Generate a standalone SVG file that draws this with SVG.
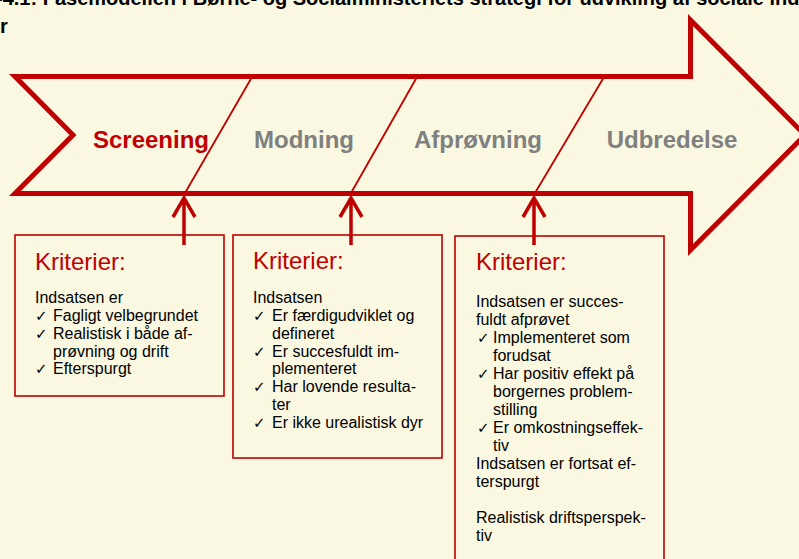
<svg xmlns="http://www.w3.org/2000/svg" width="799" height="559" viewBox="0 0 799 559">
<style>
.bg{fill:#FAF8E1}
.outline{fill:#FAF8E1;stroke:#C00000;stroke-width:5;stroke-linejoin:miter;stroke-miterlimit:10}
.div{stroke:#C00000;stroke-width:1.8;fill:none}
.phase{font-family:"Liberation Sans",Arial,sans-serif;font-weight:bold;font-size:24px;text-anchor:middle}
.box{fill:#FAF8E1;stroke:#C00000;stroke-width:1.6}
.head{font-family:"Liberation Sans",Arial,sans-serif;font-size:24px;fill:#C00000}
.t{font-family:"Liberation Sans",Arial,sans-serif;font-size:16px;fill:#000}
.ck{font-family:"DejaVu Sans",sans-serif;font-size:15px;fill:#000}
.conn{stroke:#C00000;stroke-width:3.5;fill:none}
.title{font-family:"Liberation Sans",Arial,sans-serif;font-weight:bold;font-size:20px;fill:#000}
</style>
<rect class="bg" x="0" y="0" width="799" height="559"/>
<g id="title">
<text class="title" x="-4" y="5">-4.1: Fasemodellen i Børne- og Socialministeriets strategi for udvikling af sociale ind</text>
<text class="title" x="0" y="33">r</text>
</g>
<g id="arrow">
<polygon class="outline" points="15,76.5 690.5,76.5 690.5,20 805,135 690.5,250 690.5,193.5 15,193.5 73,135"/>
<line class="div" x1="252" y1="77" x2="185" y2="193"/>
<line class="div" x1="417" y1="77" x2="351" y2="193"/>
<line class="div" x1="604" y1="77" x2="535" y2="193"/>
</g>
<g id="phase-screening"><text class="phase" x="151" y="148" fill="#C00000">Screening</text></g>
<g id="phase-modning"><text class="phase" x="304" y="148" fill="#808080">Modning</text></g>
<g id="phase-afproevning"><text class="phase" x="478" y="148" fill="#808080">Afprøvning</text></g>
<g id="phase-udbredelse"><text class="phase" x="672" y="148" fill="#808080">Udbredelse</text></g>
<g id="box1">
<rect class="box" x="15" y="235" width="209" height="161"/>
<text class="head" x="35" y="270">Kriterier:</text>
<text class="t" x="35" y="303">Indsatsen er</text>
<text class="ck" x="35" y="321">✓</text><text class="t" x="53" y="321">Fagligt velbegrundet</text>
<text class="ck" x="35" y="339">✓</text><text class="t" x="53" y="339">Realistisk i både af-</text>
<text class="t" x="53" y="357">prøvning og drift</text>
<text class="ck" x="35" y="374">✓</text><text class="t" x="53" y="374">Efterspurgt</text>
</g>
<g id="box2">
<rect class="box" x="233" y="235" width="209" height="223"/>
<text class="head" x="253" y="269">Kriterier:</text>
<text class="t" x="253" y="303">Indsatsen</text>
<text class="ck" x="253" y="321">✓</text><text class="t" x="272" y="321">Er færdigudviklet og</text>
<text class="t" x="272" y="339">defineret</text>
<text class="ck" x="253" y="357">✓</text><text class="t" x="272" y="357">Er succesfuldt im-</text>
<text class="t" x="272" y="374">plementeret</text>
<text class="ck" x="253" y="392">✓</text><text class="t" x="272" y="392">Har lovende resulta-</text>
<text class="t" x="272" y="410">ter</text>
<text class="ck" x="253" y="428">✓</text><text class="t" x="272" y="428">Er ikke urealistisk dyr</text>
</g>
<g id="box3">
<rect class="box" x="455" y="236" width="209" height="340"/>
<text class="head" x="476" y="270">Kriterier:</text>
<text class="t" x="476" y="307">Indsatsen er succes-</text>
<text class="t" x="476" y="325">fuldt afprøvet</text>
<text class="ck" x="477" y="343">✓</text><text class="t" x="493" y="343">Implementeret som</text>
<text class="t" x="493" y="361">forudsat</text>
<text class="ck" x="477" y="379">✓</text><text class="t" x="493" y="379">Har positiv effekt på</text>
<text class="t" x="493" y="397">borgernes problem-</text>
<text class="t" x="493" y="415">stilling</text>
<text class="ck" x="477" y="433">✓</text><text class="t" x="493" y="433">Er omkostningseffek-</text>
<text class="t" x="493" y="451">tiv</text>
<text class="t" x="476" y="469">Indsatsen er fortsat ef-</text>
<text class="t" x="476" y="487">terspurgt</text>
<text class="t" x="476" y="523">Realistisk driftsperspek-</text>
<text class="t" x="476" y="541">tiv</text>
</g>
<g id="connectors">
<path class="conn" d="M184,245 V198 M173,217 L184,198 L195,217"/>
<path class="conn" d="M351,245 V198 M340,217 L351,198 L362,217"/>
<path class="conn" d="M534,245 V198 M523,217 L534,198 L545,217"/>
</g>
</svg>
